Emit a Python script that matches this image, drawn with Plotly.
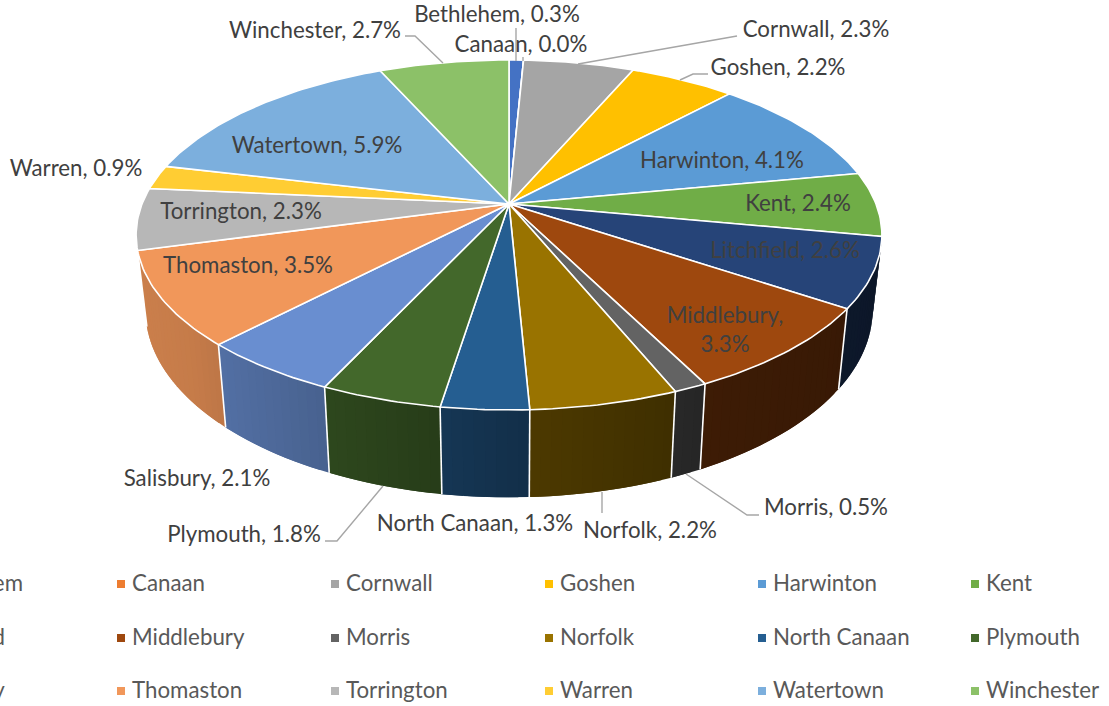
import numpy as np
import plotly.graph_objects as go

towns = ["Bethlehem", "Canaan", "Cornwall", "Goshen", "Harwinton", "Kent",
         "Litchfield", "Middlebury", "Morris", "Norfolk", "North Canaan", "Plymouth",
         "Salisbury", "Thomaston", "Torrington", "Warren", "Watertown", "Winchester"]
shares = [0.3, 0.0, 2.3, 2.2, 4.1, 2.4,
          2.6, 3.3, 0.5, 2.2, 1.3, 1.8,
          2.1, 3.5, 2.3, 0.9, 5.9, 2.7]
colors = ["#4472C4", "#ED7D31", "#A5A5A5", "#FFC000", "#5B9BD5", "#70AD47",
          "#264478", "#9E480E", "#636363", "#997300", "#255E91", "#43682B",
          "#698ED0", "#F1975A", "#B7B7B7", "#FFCD33", "#7CAFDD", "#8CC168"]

# label anchor positions (pixel-based layout only)
label_pos = {
    "Bethlehem": (497, 16), "Canaan": (521, 46), "Cornwall": (816, 31), "Goshen": (778, 69),
    "Harwinton": (722, 162), "Kent": (798, 205), "Litchfield": (785, 252), "Middlebury": (725, 332),
    "Morris": (826, 509), "Norfolk": (650, 532), "North Canaan": (475, 525), "Plymouth": (244, 536),
    "Salisbury": (197, 480), "Thomaston": (248, 267), "Torrington": (241, 213), "Warren": (76, 170),
    "Watertown": (317, 147), "Winchester": (315, 32),
}
leaders = [
    [(405, 36), (415, 36), (443, 63)],
    [(516, 28), (516, 61)],
    [(523, 57), (523, 61)],
    [(737, 36), (578, 64)],
    [(708, 74), (693, 74), (680, 80)],
    [(325, 541), (337, 541), (383, 486)],
    [(602, 492), (602, 513)],
    [(759, 515), (747, 515), (686, 474)],
]

# projection of the disc
CX, CY = 509.0, 204.0
D, K, C = 367.0, 169.5, 0.177


def top(theta):
    u, v = np.sin(theta), np.cos(theta)
    w = 1 + C * v
    return CX + D * u / w, CY - K * v / w


def bottom(theta):
    x, y = top(theta)
    return CX + (x - CX) * 0.975, CY + 73 + (y - CY) * 1.07


def shade(color, f):
    r, g, b = int(color[1:3], 16), int(color[3:5], 16), int(color[5:7], 16)
    return f"rgb({int(r * f)},{int(g * f)},{int(b * f)})"


SHADE_U = [-1, -.77, -.5, -.19, .06, .45, .92, 1]
SHADE_F = [.85, .82, .72, .6, .5, .39, .35, .33]

total = sum(shares)
edges = np.cumsum([0] + shares) / total * 2 * np.pi
fig = go.Figure()

# walls: strips overlap the next one so no seams show
for i, col in enumerate(colors):
    a, b = edges[i], edges[i + 1]
    if np.cos((a + b) / 2) > -0.1 or b <= a:
        continue
    n = max(2, int(np.degrees(b - a) / 1.5) + 1)
    ts = np.linspace(a, b, n + 1)
    step = ts[1] - ts[0]
    for t0, t1 in zip(ts[:-1], ts[1:]):
        sub = np.linspace(t0, min(t1 + step, b), 4)
        xt, yt = top(sub)
        xb, yb = bottom(sub[::-1])
        f = float(np.interp(np.sin((t0 + t1) / 2), SHADE_U, SHADE_F))
        c = shade(col, f)
        fig.add_trace(go.Scatter(x=list(xt) + list(xb), y=list(yt) + list(yb), mode="lines",
                                 fill="toself", fillcolor=c, line=dict(color=c, width=0),
                                 hoverinfo="skip", showlegend=False))

# wall separators
for i, e in enumerate(edges):
    if np.cos(e) < -0.2 and 1.8 < e < 4.45:
        x0, y0 = top(e)
        x1, y1 = bottom(e)
        fig.add_trace(go.Scatter(x=[x0, x1], y=[y0, y1], mode="lines",
                                 line=dict(color="white", width=1.6),
                                 hoverinfo="skip", showlegend=False))

# top slices
for i, col in enumerate(colors):
    a, b = edges[i], edges[i + 1]
    ts = np.linspace(a, b, max(2, int(np.degrees(b - a)) + 2))
    x, y = top(ts)
    fig.add_trace(go.Scatter(x=[CX] + list(x) + [CX], y=[CY] + list(y) + [CY], mode="lines",
                             fill="toself", fillcolor=col, line=dict(color="white", width=1.6),
                             name=towns[i], hoverinfo="name", showlegend=False))

# leader lines
for pts in leaders:
    fig.add_trace(go.Scatter(x=[p[0] for p in pts], y=[p[1] for p in pts], mode="lines",
                             line=dict(color="#A6A6A6", width=1.4),
                             hoverinfo="skip", showlegend=False))

# data labels
texts = []
for t, s in zip(towns, shares):
    texts.append(f"{t},<br>{s:.1f}%" if t == "Middlebury" else f"{t}, {s:.1f}%")
fig.add_trace(go.Scatter(x=[label_pos[t][0] for t in towns], y=[label_pos[t][1] for t in towns],
                         mode="text", text=texts, textposition="middle center", cliponaxis=False,
                         textfont=dict(family="Lato", size=22.3, color="#404040"),
                         hoverinfo="skip", showlegend=False))

# manual legend: six columns, three rows, running off the left edge
COL_X = [-93, 121, 335, 549, 762, 975]
ROW_Y = [584, 638, 691]
for i, t in enumerate(towns):
    r, c = i // 6, i % 6
    if c > 0:
        fig.add_trace(go.Scatter(x=[COL_X[c]], y=[ROW_Y[r]], mode="markers",
                                 marker=dict(symbol="square", size=8, color=colors[i]),
                                 hoverinfo="skip", showlegend=False))
        fig.add_trace(go.Scatter(x=[COL_X[c] + 11], y=[ROW_Y[r] + 1], mode="text", text=[t],
                                 textposition="middle right", cliponaxis=False,
                                 textfont=dict(family="Lato", size=22.3, color="#595959"),
                                 hoverinfo="skip", showlegend=False))
first_col_end = [25, 7, 7]
for r in range(3):
    fig.add_annotation(x=first_col_end[r], y=ROW_Y[r] - 2, xref="x", yref="y", text=towns[r * 6],
                       showarrow=False, xanchor="right", yanchor="middle",
                       font=dict(family="Lato", size=22.3, color="#595959"))

fig.update_layout(
    width=1109, height=706, margin=dict(l=0, r=0, t=0, b=0, pad=0),
    paper_bgcolor="white", plot_bgcolor="white", showlegend=False,
    xaxis=dict(range=[0, 1109], visible=False, fixedrange=True),
    yaxis=dict(range=[706, 0], visible=False, fixedrange=True),
)
fig.write_html("out.html", config={"displayModeBar": False},
               post_script="document.body.style.margin='0';document.body.style.overflow='hidden';")
